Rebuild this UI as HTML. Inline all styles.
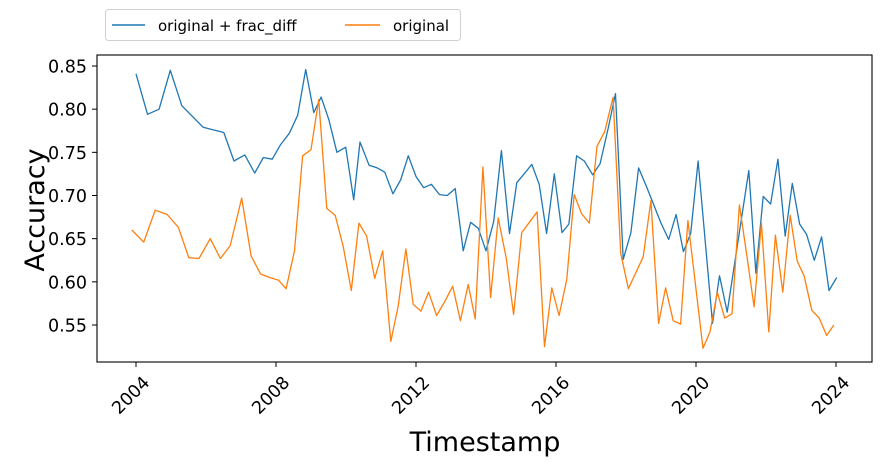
<!DOCTYPE html>
<html><head><meta charset="utf-8"><style>
html,body{margin:0;padding:0;background:#fff;}
svg{display:block;font-family:"DejaVu Sans","Liberation Sans",sans-serif;}
</style></head><body>
<svg id="chart" width="881" height="465" viewBox="0 0 881 465">
<rect width="881" height="465" fill="#fff"/>
<g id="grid"></g>
<g id="series"></g>
<rect x="97" y="55" width="775" height="307" fill="none" stroke="#000" stroke-width="1.1"/>
<g id="axes"></g>
<text x="485" y="451" font-size="27" text-anchor="middle" fill="#000">Timestamp</text>
<text transform="translate(44,210) rotate(-90)" font-size="27" text-anchor="middle" fill="#000">Accuracy</text>
<g>
<rect x="105.5" y="9.5" width="355" height="31" rx="3" fill="#fff" stroke="#d0d0d0"/>
<g>
<line x1="112" y1="25" x2="145" y2="25" stroke="#1f77b4" stroke-width="1.5"/>
<text x="158" y="31" font-size="15" fill="#000">original + frac_diff</text>
</g>
<g>
<line x1="345" y1="25" x2="380" y2="25" stroke="#ff7f0e" stroke-width="1.5"/>
<text x="393" y="31" font-size="15" fill="#000">original</text>
</g>
</g>
</svg>
<script>
const blueYearsOffset = [0,0.33,0.66,0.98,1.31,1.92,2.21,2.51,2.80,3.11,3.39,3.64,3.89,4.13,4.38,4.62,4.85,5.08,5.29,5.51,5.74,5.99,6.22,6.40,6.66,6.89,7.11,7.34,7.56,7.78,8.00,8.22,8.44,8.67,8.89,9.12,9.35,9.56,9.78,10.00,10.22,10.44,10.67,10.88,11.09,11.31,11.52,11.73,11.95,12.17,12.37,12.59,12.81,13.05,13.26,13.49,13.70,13.92,14.14,14.36,14.59,15.00,15.22,15.43,15.64,15.85,16.06,16.47,16.67,16.89,17.51,17.71,17.92,18.13,18.34,18.55,18.75,18.96,19.16,19.38,19.59,19.80,20.02];
const blueValues = [0.841,0.794,0.800,0.845,0.804,0.779,0.776,0.773,0.740,0.747,0.726,0.744,0.742,0.759,0.772,0.793,0.846,0.796,0.814,0.788,0.750,0.756,0.695,0.762,0.735,0.732,0.727,0.702,0.718,0.746,0.722,0.709,0.713,0.701,0.700,0.708,0.636,0.669,0.662,0.636,0.670,0.752,0.656,0.715,0.725,0.736,0.713,0.656,0.725,0.657,0.667,0.746,0.740,0.724,0.737,0.778,0.818,0.626,0.657,0.732,0.710,0.668,0.649,0.678,0.635,0.656,0.740,0.552,0.607,0.565,0.729,0.610,0.699,0.690,0.742,0.653,0.714,0.667,0.655,0.625,0.652,0.590,0.605];
const orangeYearsOffset = [-0.12,0.22,0.55,0.89,1.21,1.51,1.80,2.12,2.41,2.69,3.02,3.29,3.56,3.82,4.07,4.29,4.53,4.76,5.00,5.22,5.45,5.69,5.92,6.15,6.37,6.59,6.82,7.05,7.28,7.49,7.71,7.92,8.14,8.36,8.59,8.82,9.05,9.27,9.49,9.69,9.91,10.13,10.35,10.58,10.79,11.02,11.24,11.46,11.67,11.88,12.09,12.31,12.52,12.73,12.95,13.17,13.39,13.63,13.85,14.07,14.49,14.71,14.93,15.13,15.35,15.56,15.77,16.20,16.40,16.61,16.82,17.03,17.24,17.45,17.66,17.87,18.08,18.27,18.48,18.69,18.89,19.09,19.31,19.52,19.73,19.94];
const orangeValues = [0.660,0.646,0.683,0.678,0.663,0.628,0.627,0.650,0.627,0.642,0.697,0.630,0.609,0.605,0.602,0.592,0.636,0.746,0.753,0.811,0.685,0.677,0.641,0.590,0.668,0.653,0.604,0.636,0.531,0.572,0.638,0.574,0.566,0.588,0.561,0.577,0.595,0.555,0.597,0.557,0.733,0.582,0.674,0.627,0.562,0.657,0.669,0.681,0.525,0.593,0.561,0.603,0.701,0.679,0.668,0.757,0.774,0.814,0.633,0.592,0.629,0.694,0.552,0.593,0.555,0.551,0.671,0.523,0.542,0.588,0.558,0.563,0.689,0.631,0.571,0.668,0.542,0.654,0.588,0.677,0.624,0.607,0.567,0.558,0.538,0.550];
const xTickYears = [2004,2008,2012,2016,2020,2024];
const yTickValues = [0.55,0.60,0.65,0.70,0.75,0.80,0.85];

const NS = "http://www.w3.org/2000/svg";
const baseYear = 2004;
function xScale(year){ return 136 + (year - 2004) * 35; }
function yScale(v){ return 325 - (v - 0.55) / 0.30 * 259; }
const axes = document.getElementById('axes');
const series = document.getElementById('series');

xTickYears.forEach(y => {
  const x = xScale(y);
  const t = document.createElementNS(NS,'line');
  t.setAttribute('x1',x); t.setAttribute('x2',x); t.setAttribute('y1',362); t.setAttribute('y2',367);
  t.setAttribute('stroke','#000');
  
  
  axes.appendChild(t);
  const l = document.createElementNS(NS,'text');
  l.setAttribute('transform',`translate(${x+6},${375}) rotate(-45)`);
  l.setAttribute('text-anchor','end');
  l.setAttribute('font-size','17.5');
  l.setAttribute('dy','0.7em');
  l.textContent = y;
  
  
  axes.appendChild(l);
});
yTickValues.forEach(v => {
  const y = yScale(v);
  const t = document.createElementNS(NS,'line');
  t.setAttribute('x1',92); t.setAttribute('x2',97); t.setAttribute('y1',y); t.setAttribute('y2',y);
  t.setAttribute('stroke','#000');
  
  
  axes.appendChild(t);
  const l = document.createElementNS(NS,'text');
  l.setAttribute('x',87); l.setAttribute('y',y+6.5);
  l.setAttribute('text-anchor','end');
  l.setAttribute('font-size','17.5');
  l.textContent = v.toFixed(2);
  
  
  axes.appendChild(l);
});
function drawLine(offsets, values, color, name){
  const pts = offsets.map((o,i) => xScale(baseYear + o).toFixed(1) + ',' + yScale(values[i]).toFixed(1)).join(' ');
  const p = document.createElementNS(NS,'polyline');
  p.setAttribute('points', pts);
  p.setAttribute('fill','none');
  p.setAttribute('stroke', color);
  p.setAttribute('stroke-width','1.3');
  p.setAttribute('stroke-linejoin','round');
  
  
  series.appendChild(p);
}
drawLine(blueYearsOffset, blueValues, '#1f77b4', 'frac-diff-line');
drawLine(orangeYearsOffset, orangeValues, '#ff7f0e', 'original-line');
</script>
</body></html>
